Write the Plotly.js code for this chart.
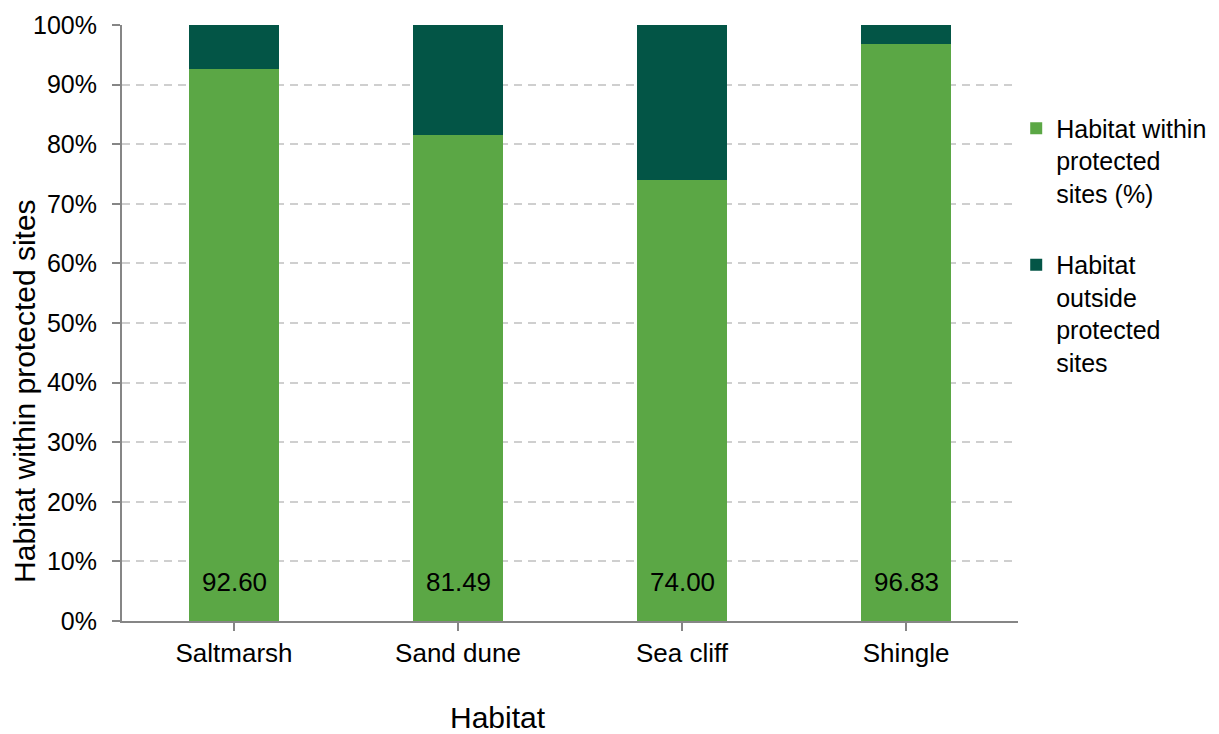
<!DOCTYPE html>
<html>
<head>
<meta charset="utf-8">
<script src="https://cdn.plot.ly/plotly-3.0.1.min.js"></script>
<style>html,body{margin:0;padding:0;background:#fff;}#chart{width:1219px;height:734px;}</style>
</head>
<body>
<div id="chart"></div>
<script>
const categories = ["Saltmarsh", "Sand dune", "Sea cliff", "Shingle"];
const withinValues = [92.60, 81.49, 74.00, 96.83];
const outsideValues = [7.40, 18.51, 26.00, 3.17];
const withinLabels = ["92.60", "81.49", "74.00", "96.83"];
const yTickValues = [0, 10, 20, 30, 40, 50, 60, 70, 80, 90, 100];
const yTickLabels = ["0%", "10%", "20%", "30%", "40%", "50%", "60%", "70%", "80%", "90%", "100%"];
const seriesNames = ["Habitat within<br>protected<br>sites (%)", "Habitat<br>outside<br>protected<br>sites"];
const xTitle = "Habitat";
const yTitle = "Habitat within protected sites";

const FONT = "Arial, 'Liberation Sans', sans-serif";

const traces = [
  {
    type: "bar", x: categories, y: withinValues, name: seriesNames[0],
    marker: {color: "#5BA745"}, width: 0.4, legendgroup: "a",
    hoverinfo: "x+y"
  },
  {
    type: "bar", x: categories, y: outsideValues, name: seriesNames[1],
    marker: {color: "#035546"}, width: 0.4, legendgroup: "b",
    hoverinfo: "x+y"
  }
];

const annotations = categories.map((c, i) => ({
  x: c, y: 0, xref: "x", yref: "y", text: withinLabels[i],
  showarrow: false, yanchor: "middle", yshift: 39,
  font: {family: FONT, size: 26, color: "#000"}
}));

// axis titles (placed as in the reference, off-centre)
annotations.push({
  xref: "paper", yref: "paper", x: 0.4196, y: -0.1612,
  xanchor: "center", yanchor: "middle", showarrow: false, borderpad: 0,
  text: xTitle, font: {family: FONT, size: 30, color: "#000"}
});
annotations.push({
  xref: "paper", yref: "paper", x: -0.1083, y: 0.386,
  xanchor: "center", yanchor: "middle", showarrow: false, textangle: -90,
  text: yTitle, font: {family: FONT, size: 30, color: "#000"}
});

const layout = {
  width: 1219, height: 734,
  margin: {l: 122, r: 201, t: 25, b: 113, autoexpand: false},
  paper_bgcolor: "#fff", plot_bgcolor: "#fff",
  barmode: "stack",
  font: {family: FONT, size: 26, color: "#000"},
  showlegend: true,
  legend: {
    x: 0.998, y: 0.865, xanchor: "left", yanchor: "top",
    valign: "top", tracegroupgap: 36, traceorder: "grouped",
    font: {family: FONT, size: 25, color: "#000"},
    itemwidth: 30
  },
  xaxis: {
    type: "category",
    showline: true, linecolor: "#868686", linewidth: 2,
    ticks: "outside", ticklen: 8, tickcolor: "#868686", tickwidth: 2,
    showgrid: false, zeroline: false,
    tickfont: {family: FONT, size: 26, color: "#000"}
  },
  yaxis: {
    range: [0, 100], tickmode: "array", tickvals: yTickValues, ticktext: yTickLabels,
    showline: true, linecolor: "#868686", linewidth: 2,
    ticks: "outside", ticklen: 8, tickcolor: "#868686", tickwidth: 2,
    showgrid: true, gridcolor: "#cfcfcf", gridwidth: 1.5, griddash: "8px,6px",
    zeroline: false,
    ticklabelstandoff: 10,
    tickfont: {family: FONT, size: 25, color: "#000"}
  },
  annotations: annotations
};

Plotly.newPlot("chart", traces, layout, {displayModeBar: false, responsive: false});
</script>
</body>
</html>
